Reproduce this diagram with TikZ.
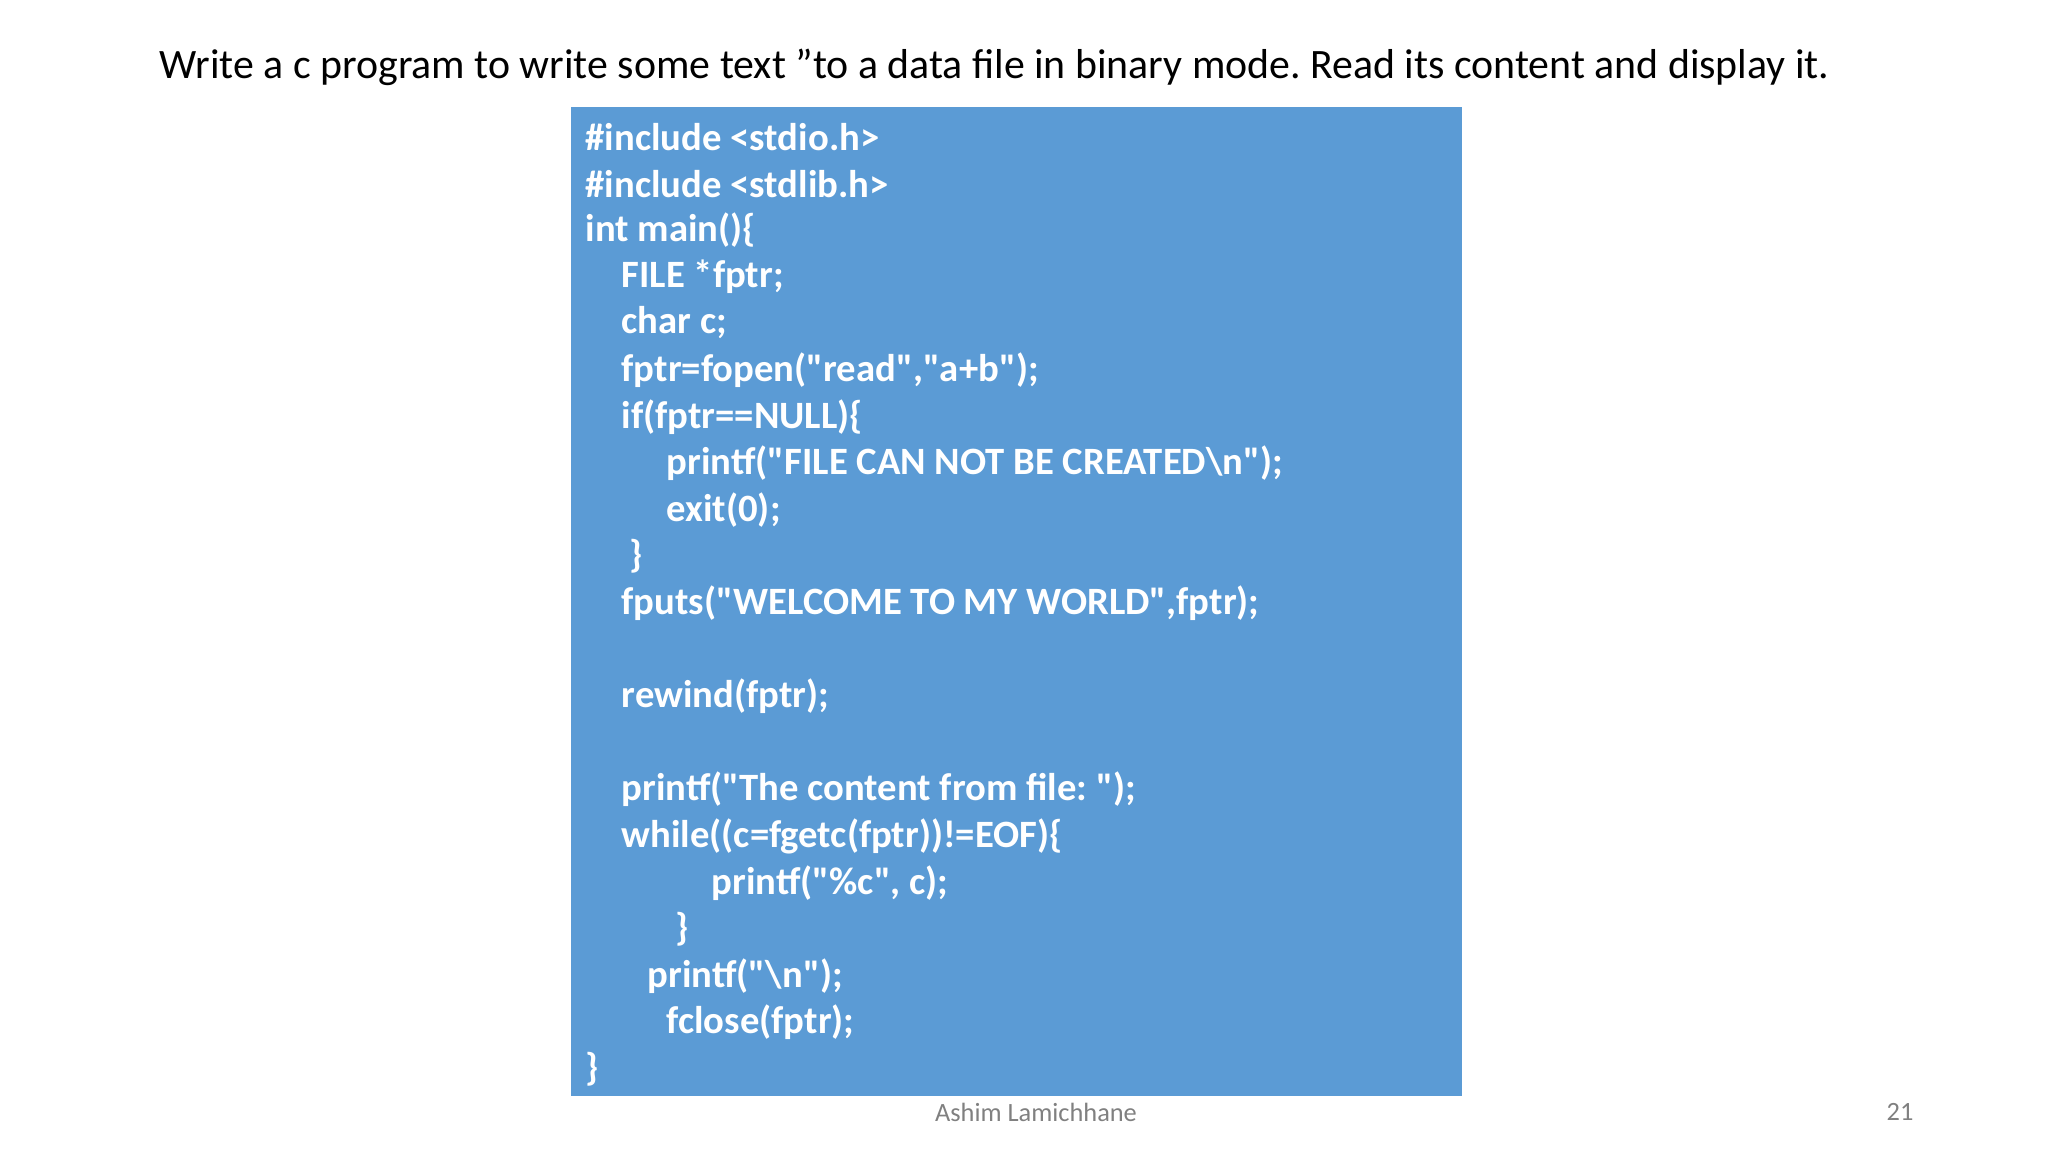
\documentclass[tikz,border=0pt]{standalone}
\usepackage{fontspec}
\defaultfontfeatures{}
\setmainfont{Carlito}[Ligatures=ResetAll]
\newcommand\dq{\textquotedbl}
\definecolor{boxblue}{HTML}{5B9BD5}
\begin{document}
\frenchspacing
\begin{tikzpicture}[x=0.01cm,y=-0.01cm,
  code/.style={anchor=west,inner sep=0pt,text=white,font=\fontsize{11}{13}\selectfont\bfseries}]
\useasboundingbox (0,0) rectangle (2048,1152);
\node[anchor=west,inner sep=0pt,font=\fontsize{11.9}{14}\selectfont] (title) at (159,67) {Write a c program to write some text ”to a data file in binary mode. Read its content and display it.};
\fill[boxblue] (571,107) rectangle (1462,1096);
\node[code] (l1) at (585,137) {\#include <stdio.h>};
\node[code] (l2) at (585,184) {\#include <stdlib.h>};
\node[code] (l3) at (585,230) {int main()\{};
\node[code] (l4) at (621,277) {FILE *fptr;};
\node[code] (l5) at (621,323) {char c;};
\node[code] (l6) at (621,370) {fptr=fopen(\dq read\dq,\dq a+b\dq);};
\node[code] (l7) at (621,417) {if(fptr==NULL)\{};
\node[code] (l8) at (666,463) {printf(\dq FILE CAN NOT BE CREATED\textbackslash n\dq);};
\node[code] (l9) at (666,510) {exit(0);};
\node[code] (l10) at (629,556) {\}};
\node[code] (l11) at (621,603) {fputs(\dq WELCOME TO MY WORLD\dq,fptr);};
\node[code] (l13) at (621,696) {rewind(fptr);};
\node[code] (l15) at (621,789) {printf(\dq The content from file: \dq);};
\node[code] (l16) at (621,836) {while((c=fgetc(fptr))!=EOF)\{};
\node[code] (l17) at (711,883) {printf(\dq\%c\dq, c);};
\node[code] (l18) at (675,929) {\}};
\node[code] (l19) at (647,976) {printf(\dq\textbackslash n\dq);};
\node[code] (l20) at (666,1022) {fclose(fptr);};
\node[code] (l21) at (585,1069) {\}};
\node[text=gray,font=\fontsize{7.5}{9}\selectfont] (foot) at (1036,1112) {Ashim Lamichhane};
\node[text=gray,font=\fontsize{7.5}{9}\selectfont] (num) at (1900,1112) {21};
\end{tikzpicture}
\end{document}
